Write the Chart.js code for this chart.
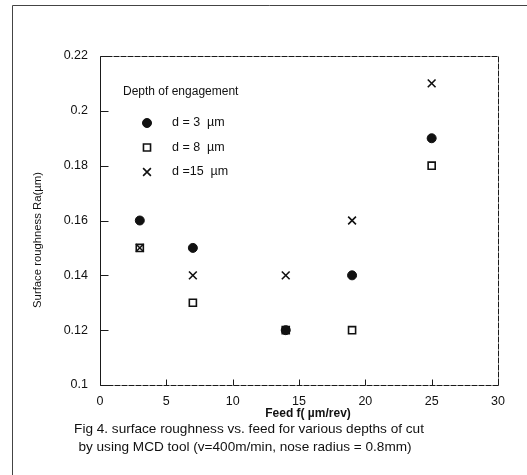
<!DOCTYPE html>
<html>
<head>
<meta charset="utf-8">
<script src="https://cdn.jsdelivr.net/npm/chart.js@4.4.0/dist/chart.umd.min.js"></script>
<style>
  html, body { margin: 0; padding: 0; background: #fff; }
  #wrap { width: 527px; height: 475px; }
</style>
</head>
<body>
<div id="wrap"><canvas id="chart" width="527" height="475"></canvas></div>
<script>
// feed f (µm/rev) and surface roughness Ra (µm) per depth of engagement
const feed = [3, 7, 14, 19, 25];
const ra3 = [0.16, 0.15, 0.12, 0.14, 0.19];
const ra8 = [0.15, 0.13, 0.12, 0.12, 0.18];
const ra15 = [0.15, 0.14, 0.14, 0.16, 0.21];
const seriesLabels = ["d = 3  µm", "d = 8  µm", "d =15  µm"];
const xTicks = [0, 5, 10, 15, 20, 25, 30];
const yTicks = [0.1, 0.12, 0.14, 0.16, 0.18, 0.2, 0.22];
const legendTitle = "Depth of engagement";
const xTitle = "Feed f( µm/rev)";
const yTitle = "Surface roughness Ra(µm)";
const caption = [
  "Fig 4. surface roughness vs. feed for various depths of cut",
  "by using MCD tool (v=400m/min, nose radius = 0.8mm)",
];

const ink = "#111";
const font = "Arial, 'Liberation Sans', sans-serif";

function toPoints(ys) {
  return feed.map((x, i) => ({ x: x, y: ys[i] }));
}

// frame, plot box, inward ticks, legend, titles and caption
const decor = {
  id: "decor",
  afterDraw(chart) {
    const ctx = chart.ctx;
    const a = chart.chartArea;
    const L = Math.round(a.left) + 0.5;
    const R = Math.round(a.right) + 0.5;
    const T = Math.round(a.top) + 0.5;
    const B = Math.round(a.bottom) + 0.5;
    ctx.save();

    // page frame
    ctx.strokeStyle = "#444";
    ctx.lineWidth = 1;
    ctx.beginPath();
    ctx.moveTo(12.5, 475);
    ctx.lineTo(12.5, 5.5);
    ctx.lineTo(527, 5.5);
    ctx.stroke();

    // plot box: solid left edge, dashed others
    ctx.strokeStyle = "#1a1a1a";
    ctx.beginPath();
    ctx.moveTo(L, T);
    ctx.lineTo(L, B);
    ctx.stroke();
    ctx.setLineDash([6, 1]);
    ctx.beginPath();
    ctx.moveTo(L, B);
    ctx.lineTo(R, B);
    ctx.lineTo(R, T);
    ctx.lineTo(L, T);
    ctx.stroke();
    ctx.setLineDash([]);

    // inward tick marks
    ctx.beginPath();
    yTicks.forEach((v) => {
      const y = Math.round(chart.scales.y.getPixelForValue(v)) + 0.5;
      ctx.moveTo(L, y);
      ctx.lineTo(L + 8, y);
    });
    xTicks.forEach((v) => {
      const x = Math.round(chart.scales.x.getPixelForValue(v)) + 0.5;
      ctx.moveTo(x, B);
      ctx.lineTo(x, B - 6);
    });
    ctx.stroke();

    // legend
    ctx.fillStyle = ink;
    ctx.textBaseline = "middle";
    ctx.textAlign = "left";
    ctx.font = "12px " + font;
    ctx.fillText(legendTitle, 123, 92);
    chart.data.datasets.forEach((ds, i) => {
      const y = 123 + i * 24.5;
      ctx.fillStyle = ds.backgroundColor;
      ctx.strokeStyle = ds.borderColor;
      ctx.lineWidth = ds.borderWidth;
      Chart.helpers.drawPoint(ctx, {
        pointStyle: ds.pointStyle,
        radius: ds.pointRadius,
        rotation: 0,
        borderWidth: ds.borderWidth,
      }, 147, y);
      ctx.fillStyle = ink;
      ctx.font = "12.5px " + font;
      ctx.fillText(ds.label, 172, y);
    });

    // axis titles
    ctx.textAlign = "center";
    ctx.font = "bold 12px " + font;
    ctx.fillText(xTitle, 308, 414);

    ctx.save();
    ctx.translate(38, 240);
    ctx.rotate(-Math.PI / 2);
    ctx.font = "11.3px " + font;
    ctx.fillText(yTitle, 0, 0);
    ctx.restore();

    // caption
    ctx.font = "13.6px " + font;
    ctx.fillText(caption[0], 249, 429);
    ctx.fillText(caption[1], 245, 447);

    ctx.restore();
  },
};

new Chart(document.getElementById("chart"), {
  type: "scatter",
  data: {
    datasets: [
      {
        label: seriesLabels[0],
        data: toPoints(ra3),
        pointStyle: "circle",
        pointRadius: 4.5,
        backgroundColor: ink,
        borderColor: ink,
        borderWidth: 1,
      },
      {
        label: seriesLabels[1],
        data: toPoints(ra8),
        pointStyle: "rect",
        pointRadius: 5,
        backgroundColor: "rgba(255,255,255,0)",
        borderColor: ink,
        borderWidth: 1.6,
      },
      {
        label: seriesLabels[2],
        data: toPoints(ra15),
        pointStyle: "crossRot",
        pointRadius: 5.5,
        backgroundColor: ink,
        borderColor: ink,
        borderWidth: 1.6,
      },
    ],
  },
  options: {
    responsive: false,
    animation: false,
    devicePixelRatio: 1,
    layout: { padding: { left: 0, top: 56, right: 29, bottom: 0 } },
    plugins: {
      legend: { display: false },
      tooltip: { enabled: false },
    },
    scales: {
      x: {
        type: "linear",
        min: 0,
        max: 30,
        afterBuildTicks: (s) => { s.ticks = xTicks.map((v) => ({ value: v })); },
        afterFit: (s) => { s.height = 90; },
        ticks: {
          color: ink,
          font: { family: font, size: 12.5 },
          padding: 1,
          maxRotation: 0,
          autoSkip: false,
        },
        grid: { display: false },
        border: { display: false },
      },
      y: {
        type: "linear",
        min: 0.1,
        max: 0.22,
        afterBuildTicks: (s) => { s.ticks = yTicks.map((v) => ({ value: v })); },
        afterFit: (s) => { s.width = 100; },
        ticks: {
          color: ink,
          font: { family: font, size: 12.5 },
          padding: 4,
          callback: (v) => String(Math.round(v * 100) / 100),
        },
        grid: { display: false },
        border: { display: false },
      },
    },
  },
  plugins: [decor],
});
</script>
</body>
</html>
